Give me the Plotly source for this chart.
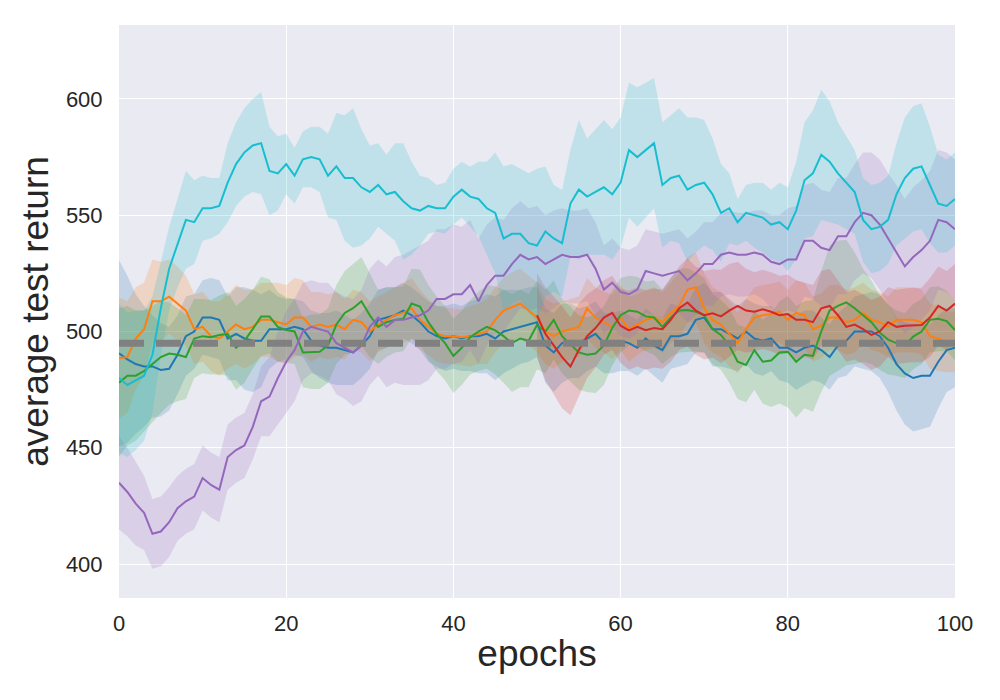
import plotly.graph_objects as go

# epochs at which each run was evaluated
epochs = list(range(0, 101))
epochs_red = list(range(50, 101))

# mean test return per run
blue_mean = [490.6, 488, 486, 485, 485, 483.5, 484, 490, 498, 500,
             506, 506, 505, 497, 499, 497, 496, 496, 501, 501,
             501, 502, 501, 496, 494, 493, 493, 492, 491, 494,
             498, 505, 506, 507, 509, 507, 504, 500, 498, 497,
             498, 497, 498, 498, 499, 497, 500, 501, 502, 503,
             504, 494, 491, 495, 496, 495, 497, 499, 495, 495,
             496, 495, 493, 497, 494, 492, 498, 498, 499, 505,
             506, 501, 501, 499, 497, 500, 497, 496, 497, 493,
             493, 491, 493, 494, 492, 489, 494, 496, 500, 500,
             500, 498, 493, 486, 482, 480, 481, 481, 487, 492, 493]
orange_mean = [488.5, 489, 497, 501, 513, 513, 515, 512, 509, 501,
               502, 498, 497, 500, 503, 501, 502, 505, 505, 504,
               503, 506, 506, 502, 503, 502, 503, 501, 505, 504,
               500, 503, 505, 507, 508, 510, 505, 502, 499, 498,
               498, 497.5, 498, 499, 500, 505, 509, 510.5, 512, 509,
               506, 500, 498, 500, 501, 502, 510, 506, 504, 502,
               506, 501, 503, 505, 506, 504, 508, 511, 518, 519,
               510, 505, 503, 499, 495, 501, 506, 507, 507.5, 508.5,
               505, 508, 507, 501, 502.5, 506, 506, 504, 505, 508,
               505, 504, 502, 505, 505, 505, 504, 498, 497, 495.5, 495.5]
green_mean = [478, 481, 481, 483, 486, 489, 490.5, 490, 489, 497,
              498, 497.5, 498.5, 499, 493, 496, 501, 506.5, 506.5, 502,
              500.6, 500, 491, 491.3, 491.3, 494, 503, 508, 510, 513,
              507, 502, 504, 505, 505.5, 512, 510.7, 504, 499, 495,
              489.5, 493, 497.5, 500, 502, 500.5, 498, 495, 497, 496,
              502.8, 500, 505, 498, 494.5, 491, 490, 490.5, 494, 501.5,
              507, 509, 508.5, 506.5, 506, 502, 506, 509, 509.2, 508.5,
              507, 501, 498.5, 494, 487, 485.6, 492, 487, 487.5, 491,
              491.3, 487, 490, 489.5, 500, 509, 511, 512.5, 510, 507,
              504, 499.5, 496.5, 495, 494, 497.8, 500, 505, 505.5, 504.5, 500.6]
red_mean = [507, 499, 494, 489, 485, 492, 498, 501.5, 506, 508,
            502.5, 500.5, 502, 500.6, 501.5, 501, 505, 510, 512.5, 509,
            507, 507.8, 506.5, 509, 511, 509, 508.5, 509.5, 508.5, 507,
            507.5, 505, 505, 504, 510, 511, 507, 502, 503, 501,
            498.5, 500, 504, 502, 502.5, 502.8, 502.8, 506, 511, 509, 512]
purple_mean = [435, 431, 426, 422, 413, 414, 418, 424, 427, 429,
               437, 434, 432, 446, 449, 451, 459, 470, 472, 480,
               487, 492, 500, 502, 501, 500, 495, 493, 491, 494,
               502, 506, 502, 505, 505, 506, 507, 509, 514, 514,
               516, 516, 520, 513, 520, 524, 524, 529, 533, 531,
               532, 529, 531, 533, 532, 532, 533, 527, 518, 521,
               517, 516, 518, 526, 525, 524, 525, 526, 522, 525,
               529, 529, 533, 534, 533, 533, 534, 533, 530, 529,
               531, 531, 539, 539, 536, 535, 541, 541, 547, 551,
               550, 546, 540, 534, 528, 532, 535, 539, 548, 547, 544]
cyan_mean = [480, 477, 479, 481, 490, 510, 527, 538, 548, 547,
             553, 553, 554, 564, 572, 577, 580, 581, 569, 568,
             572, 567, 574, 575, 574, 567, 571, 566, 566, 562,
             560, 563, 559, 560, 556, 553, 552, 554, 553, 553,
             558, 561, 558, 557, 553, 551, 540, 542, 542, 538,
             537, 543, 540, 538, 555, 561, 558, 560, 562, 559,
             564, 578, 575, 578, 581, 563, 566, 567, 561, 563,
             564, 559, 551, 553, 547, 551, 550, 549, 546, 547,
             544, 552, 565, 568, 576, 573, 568, 564, 560, 548,
             544, 545, 548, 559, 566, 570, 571, 563, 555, 554, 557]

# half width of the shaded band around each mean
blue_spread = [40, 36, 30, 26, 22, 20, 18, 17, 17, 16,
               16, 17, 17, 18, 20, 22, 22, 20, 17, 14,
               13, 12, 12, 13, 14, 15, 16, 15, 14, 14,
               14, 13, 13, 12, 12, 12, 12, 13, 13, 14,
               14, 14, 15, 16, 17, 18, 18, 17, 16, 16,
               15, 16, 17, 17, 16, 15, 14, 14, 13, 13,
               13, 12, 12, 13, 13, 14, 14, 13, 13, 14,
               15, 16, 16, 15, 14, 14, 15, 15, 14, 14,
               15, 16, 16, 15, 14, 14, 14, 15, 15, 16,
               17, 18, 19, 20, 22, 23, 23, 22, 20, 18, 17]
orange_spread = [26, 24, 22, 20, 18, 17, 16, 16, 15, 15,
                 15, 15, 16, 16, 17, 17, 16, 16, 16, 17,
                 17, 17, 16, 15, 14, 14, 14, 13, 13, 13,
                 13, 12, 12, 12, 13, 13, 13, 12, 12, 12,
                 12, 12, 13, 13, 14, 14, 14, 15, 15, 15,
                 15, 14, 14, 13, 13, 13, 13, 13, 13, 14,
                 14, 14, 13, 13, 13, 13, 13, 14, 14, 15,
                 15, 14, 14, 14, 13, 13, 13, 13, 13, 13,
                 13, 14, 14, 14, 14, 14, 14, 14, 14, 13,
                 13, 13, 13, 14, 14, 14, 14, 14, 14, 13, 13]
green_spread = [32, 30, 28, 26, 25, 24, 22, 20, 18, 17,
                16, 16, 17, 18, 18, 18, 17, 17, 16, 15,
                14, 14, 15, 16, 16, 16, 17, 18, 19, 19,
                18, 16, 15, 14, 14, 15, 16, 16, 16, 16,
                16, 16, 16, 17, 18, 19, 20, 21, 21, 20,
                19, 18, 17, 16, 16, 16, 16, 17, 17, 16,
                16, 15, 15, 15, 16, 16, 17, 18, 18, 17,
                16, 15, 15, 16, 16, 16, 17, 18, 20, 22,
                24, 24, 23, 24, 26, 28, 28, 27, 24, 20,
                18, 16, 15, 14, 14, 14, 14, 14, 14, 13, 13]
red_spread = [18, 20, 21, 22, 21, 20, 18, 17, 16, 16,
              16, 17, 17, 17, 17, 17, 18, 18, 19, 19,
              19, 19, 20, 20, 19, 18, 17, 17, 17, 17,
              17, 17, 16, 16, 16, 16, 15, 15, 15, 15,
              15, 15, 15, 16, 16, 16, 16, 17, 17, 17, 17]
purple_spread = [20, 19, 18, 16, 15, 15, 15, 14, 14, 14,
                 14, 14, 14, 14, 14, 14, 14, 15, 17, 20,
                 22, 22, 21, 20, 20, 21, 22, 22, 23, 24,
                 25, 25, 26, 27, 28, 29, 30, 30, 30, 30,
                 30, 29, 28, 27, 26, 25, 24, 24, 23, 22,
                 22, 21, 21, 20, 20, 20, 20, 20, 19, 19,
                 19, 19, 19, 18, 18, 18, 18, 18, 18, 18,
                 18, 18, 18, 18, 18, 18, 18, 19, 20, 21,
                 22, 23, 24, 25, 25, 25, 25, 25, 25, 26,
                 27, 28, 28, 29, 29, 30, 30, 30, 30, 30, 30]
cyan_spread = [32, 31, 30, 28, 25, 20, 18, 19, 21, 18,
               14, 13, 12, 17, 18, 19, 20, 22, 19, 16,
               13, 12, 12, 13, 14, 18, 23, 27, 30, 25,
               20, 18, 17, 21, 25, 20, 15, 12, 10, 11,
               12, 12, 13, 16, 20, 26, 31, 30, 28, 30,
               33, 28, 23, 23, 23, 30, 25, 27, 29, 28,
               28, 29, 30, 29, 28, 27, 27, 29, 31, 29,
               27, 24, 21, 15, 10, 12, 14, 15, 15, 17,
               18, 21, 25, 27, 28, 26, 22, 20, 18, 18,
               19, 19, 19, 22, 26, 27, 27, 25, 21, 20, 20]

baseline = 495

runs = [
    (epochs, blue_mean, blue_spread, (31, 119, 180)),
    (epochs, orange_mean, orange_spread, (255, 127, 14)),
    (epochs, green_mean, green_spread, (44, 160, 44)),
    (epochs_red, red_mean, red_spread, (214, 39, 40)),
    (epochs, purple_mean, purple_spread, (148, 103, 189)),
    (epochs, cyan_mean, cyan_spread, (23, 190, 207)),
]

fig = go.Figure()

# shaded bands first, so every line sits on top of them (like matplotlib zorder)
for x, mean, spread, (r, g, b) in runs:
    upper = [m + s for m, s in zip(mean, spread)]
    lower = [m - s for m, s in zip(mean, spread)]
    fig.add_trace(go.Scatter(x=x + x[::-1], y=upper + lower[::-1],
                             fill='toself', mode='none',
                             fillcolor='rgba(%d,%d,%d,0.2)' % (r, g, b),
                             hoverinfo='skip', showlegend=False))

# mean lines
for x, mean, spread, (r, g, b) in runs:
    fig.add_trace(go.Scatter(x=x, y=mean, mode='lines',
                             line=dict(color='rgb(%d,%d,%d)' % (r, g, b), width=2),
                             showlegend=False))

# baseline
fig.add_trace(go.Scatter(x=[0, 100], y=[baseline, baseline], mode='lines',
                         line=dict(color='rgb(128,128,128)', width=7, dash='25px,12px'),
                         showlegend=False))

# the page body adds an 8px offset, so margins are shifted to compensate
fig.update_layout(width=1000, height=700,
                  margin=dict(l=111, r=53, t=17, b=110),
                  paper_bgcolor='white', plot_bgcolor='#EAEAF2',
                  font=dict(family='Liberation Sans, Arial, sans-serif', color='#262626'))

fig.update_xaxes(range=[0, 100], tickvals=[0, 20, 40, 60, 80, 100],
                 showgrid=True, gridcolor='white', gridwidth=1.3, zeroline=False,
                 ticks='outside', ticklen=6, tickcolor='rgba(0,0,0,0)',
                 tickfont=dict(size=22), automargin=False,
                 title=dict(text='epochs', font=dict(size=37), standoff=4))
fig.update_yaxes(range=[385.4, 631.8], tickvals=[400, 450, 500, 550, 600],
                 showgrid=True, gridcolor='white', gridwidth=1.3, zeroline=False,
                 ticks='outside', ticklen=11, tickcolor='rgba(0,0,0,0)',
                 tickfont=dict(size=22), automargin=False,
                 title=dict(text='average test return', font=dict(size=37), standoff=5))

fig.write_html("out.html")
